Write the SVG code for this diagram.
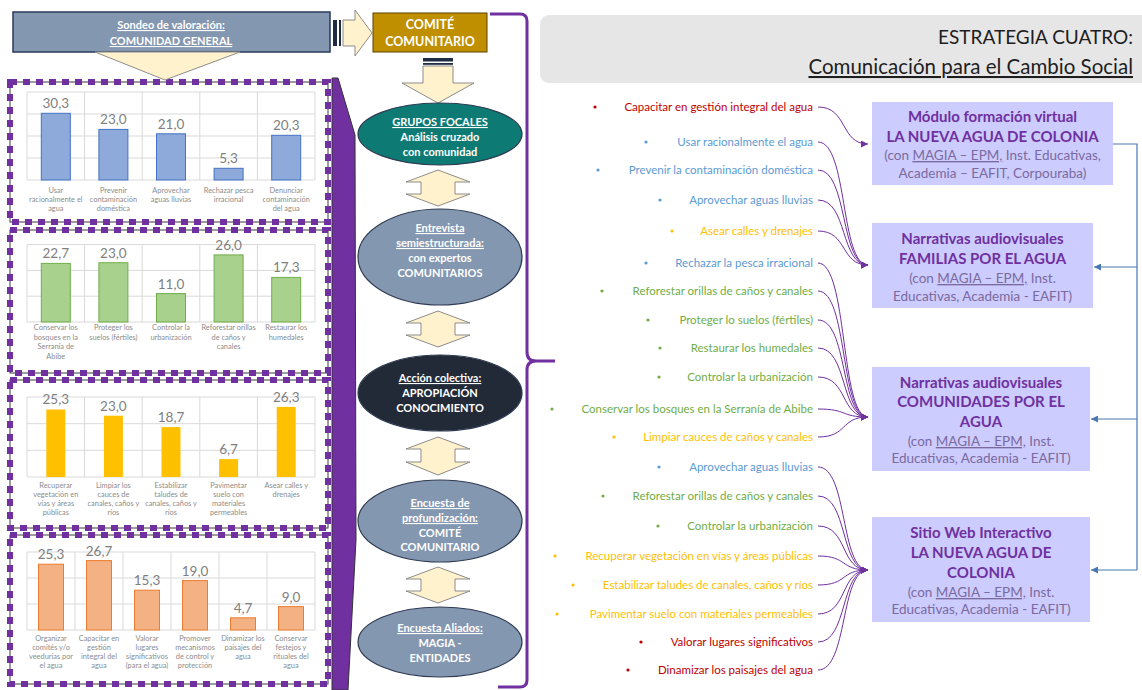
<svg xmlns="http://www.w3.org/2000/svg" width="1142" height="690" viewBox="0 0 1142 690">
<defs>
<style>
text{font-family:Lato,"Open Sans","Liberation Sans",sans-serif}
.w{fill:#fff;font-weight:bold;font-size:11px;text-anchor:middle}
.u{text-decoration:underline}
.val{font-size:13.5px;fill:#7f7f7f;text-anchor:middle}
.cat{font-size:7.4px;fill:#8c8c8c;text-anchor:middle}
.grid{stroke:#d9d9d9;stroke-width:1;fill:none}
.yel{fill:#fff2cc;stroke:#8c8c8c;stroke-width:1}
.ell{stroke:#2f3b52;stroke-width:1.2}
.it{font-size:11.5px;text-anchor:end}
.r{fill:#c00000}.b{fill:#5b9bd5}.g{fill:#70ad47}.y{fill:#ffc000}
.cv{fill:none;stroke:#7030a0;stroke-width:1;marker-end:url(#pa)}
.bl{fill:none;stroke:#4a78b0;stroke-width:1.2}
.ba{fill:none;stroke:#4a78b0;stroke-width:1.2;marker-end:url(#ba)}
.box{fill:#ccccff}
.bt{font-size:15px;font-weight:bold;fill:#7030a0;text-anchor:middle}
.bs{font-size:13.5px;fill:#7b6a9e;text-anchor:middle}
.dash{fill:none;stroke:#7030a0;stroke-width:6;stroke-dasharray:7 6}
.thin{fill:none;stroke:#3a3a3a;stroke-width:1}
.b1{fill:#8eaadb;stroke:#4472c4;stroke-width:1}
.b2{fill:#a9d18e;stroke:#70ad47;stroke-width:1}
.b3{fill:#ffc000}
.b4{fill:#f4b183;stroke:#ed7d31;stroke-width:1}
</style>
<marker id="pa" viewBox="0 0 10 10" refX="10" refY="5" markerWidth="7" markerHeight="7" markerUnits="userSpaceOnUse" orient="auto"><path d="M0,0 L10,5 L0,10 z" fill="#7030a0"/></marker>
<marker id="ba" viewBox="0 0 10 10" refX="10" refY="5" markerWidth="7" markerHeight="7" markerUnits="userSpaceOnUse" orient="auto"><path d="M0,0 L10,5 L0,10 z" fill="#4a78b0"/></marker>
</defs>
<rect width="1142" height="690" fill="#fff"/>

<!-- big purple chevron -->
<polygon points="332,78 338,78 355,135 356,540 348,690 332,690" fill="#7030a0" stroke="#333" stroke-width="1"/>

<!-- chart panels -->
<g id="chart1">
<rect x="10" y="82" width="318" height="140" fill="#fff"/>
<path class="grid" d="M27,92H315M27,114H315M27,136H315M27,158H315M27,180H315M27,92V180M84.6,92V180M142.2,92V180M199.8,92V180M257.4,92V180M315,92V180"/>
<rect class="b1" x="41.3" y="113.3" width="29" height="66.7"/>
<rect class="b1" x="98.9" y="129.4" width="29" height="50.6"/>
<rect class="b1" x="156.5" y="133.8" width="29" height="46.2"/>
<rect class="b1" x="214.1" y="168.3" width="29" height="11.7"/>
<rect class="b1" x="271.7" y="135.3" width="29" height="44.7"/>
<text class="val" x="55.8" y="108">30,3</text>
<text class="val" x="113.4" y="124">23,0</text>
<text class="val" x="171" y="128.5">21,0</text>
<text class="val" x="228.6" y="163">5,3</text>
<text class="val" x="286.2" y="130">20,3</text>
<text class="cat" x="55.8" y="193">Usar<tspan x="55.8" y="202">racionalmente el</tspan><tspan x="55.8" y="211">agua</tspan></text>
<text class="cat" x="113.4" y="193">Prevenir<tspan x="113.4" y="202">contaminación</tspan><tspan x="113.4" y="211">doméstica</tspan></text>
<text class="cat" x="171" y="193">Aprovechar<tspan x="171" y="202">aguas lluvias</tspan></text>
<text class="cat" x="228.6" y="193">Rechazar pesca<tspan x="228.6" y="202">irracional</tspan></text>
<text class="cat" x="286.2" y="193">Denunciar<tspan x="286.2" y="202">contaminación</tspan><tspan x="286.2" y="211">del agua</tspan></text>
<rect class="thin" x="10" y="82" width="318" height="140"/>
<rect class="dash" x="10" y="82" width="318" height="140"/>
</g>

<g id="chart2">
<rect x="10" y="230" width="318" height="143" fill="#fff"/>
<path class="grid" d="M27,244.6H315M27,270.4H315M27,296.2H315M27,322H315M27,244.6V322M84.6,244.6V322M142.2,244.6V322M199.8,244.6V322M257.4,244.6V322M315,244.6V322"/>
<rect class="b2" x="41.3" y="263.4" width="29" height="58.6"/>
<rect class="b2" x="98.9" y="262.7" width="29" height="59.3"/>
<rect class="b2" x="156.5" y="293.6" width="29" height="28.4"/>
<rect class="b2" x="214.1" y="254.9" width="29" height="67.1"/>
<rect class="b2" x="271.7" y="277.4" width="29" height="44.6"/>
<text class="val" x="55.8" y="258">22,7</text>
<text class="val" x="113.4" y="257.5">23,0</text>
<text class="val" x="171" y="288.5">11,0</text>
<text class="val" x="228.6" y="249.5">26,0</text>
<text class="val" x="286.2" y="272">17,3</text>
<text class="cat" x="55.8" y="330">Conservar los<tspan x="55.8" y="339.5">bosques en la</tspan><tspan x="55.8" y="349">Serranía de</tspan><tspan x="55.8" y="358.5">Abibe</tspan></text>
<text class="cat" x="113.4" y="330">Proteger los<tspan x="113.4" y="339.5">suelos (fértiles)</tspan></text>
<text class="cat" x="171" y="330">Controlar la<tspan x="171" y="339.5">urbanización</tspan></text>
<text class="cat" x="228.6" y="330">Reforestar orillas<tspan x="228.6" y="339.5">de caños y</tspan><tspan x="228.6" y="349">canales</tspan></text>
<text class="cat" x="286.2" y="330">Restaurar los<tspan x="286.2" y="339.5">humedales</tspan></text>
<rect class="thin" x="10" y="230" width="318" height="143"/>
<rect class="dash" x="10" y="230" width="318" height="143"/>
</g>

<g id="chart3">
<rect x="10" y="380" width="318" height="148" fill="#fff"/>
<path class="grid" d="M27,397H315M27,423.7H315M27,450.3H315M27,477H315M27,397V477M84.6,397V477M142.2,397V477M199.8,397V477M257.4,397V477M315,397V477"/>
<rect class="b3" x="46.3" y="409.5" width="19" height="67.5"/>
<rect class="b3" x="103.9" y="415.7" width="19" height="61.3"/>
<rect class="b3" x="161.5" y="427.1" width="19" height="49.9"/>
<rect class="b3" x="219.1" y="459.1" width="19" height="17.9"/>
<rect class="b3" x="276.7" y="406.9" width="19" height="70.1"/>
<text class="val" x="55.8" y="404">25,3</text>
<text class="val" x="113.4" y="410.5">23,0</text>
<text class="val" x="171" y="421.5">18,7</text>
<text class="val" x="228.6" y="454">6,7</text>
<text class="val" x="286.2" y="401.5">26,3</text>
<text class="cat" x="55.8" y="488">Recuperar<tspan x="55.8" y="497">vegetación en</tspan><tspan x="55.8" y="506">vías y áreas</tspan><tspan x="55.8" y="515">públicas</tspan></text>
<text class="cat" x="113.4" y="488">Limpiar los<tspan x="113.4" y="497">cauces de</tspan><tspan x="113.4" y="506">canales, caños y</tspan><tspan x="113.4" y="515">ríos</tspan></text>
<text class="cat" x="171" y="488">Estabilizar<tspan x="171" y="497">taludes de</tspan><tspan x="171" y="506">canales, caños y</tspan><tspan x="171" y="515">ríos</tspan></text>
<text class="cat" x="228.6" y="488">Pavimentar<tspan x="228.6" y="497">suelo con</tspan><tspan x="228.6" y="506">materiales</tspan><tspan x="228.6" y="515">permeables</tspan></text>
<text class="cat" x="286.2" y="488">Asear calles y<tspan x="286.2" y="497">drenajes</tspan></text>
<rect class="thin" x="10" y="380" width="318" height="148"/>
<rect class="dash" x="10" y="380" width="318" height="148"/>
</g>

<g id="chart4">
<rect x="10" y="535" width="318" height="149" fill="#fff"/>
<path class="grid" d="M27,552H315M27,578H315M27,604H315M27,630H315M27,552V630M75,552V630M123,552V630M171,552V630M219,552V630M267,552V630M315,552V630"/>
<rect class="b4" x="38.5" y="564.2" width="25" height="65.8"/>
<rect class="b4" x="86.5" y="560.6" width="25" height="69.4"/>
<rect class="b4" x="134.5" y="590.2" width="25" height="39.8"/>
<rect class="b4" x="182.5" y="580.6" width="25" height="49.4"/>
<rect class="b4" x="230.5" y="617.8" width="25" height="12.2"/>
<rect class="b4" x="278.5" y="606.6" width="25" height="23.4"/>
<text class="val" x="51" y="559">25,3</text>
<text class="val" x="99" y="555.5">26,7</text>
<text class="val" x="147" y="585">15,3</text>
<text class="val" x="195" y="575.5">19,0</text>
<text class="val" x="243" y="612.5">4,7</text>
<text class="val" x="291" y="601.5">9,0</text>
<text class="cat" x="51" y="641">Organizar<tspan x="51" y="650">comités y/o</tspan><tspan x="51" y="659">veedurías por</tspan><tspan x="51" y="668">el agua</tspan></text>
<text class="cat" x="99" y="641">Capacitar en<tspan x="99" y="650">gestión</tspan><tspan x="99" y="659">integral del</tspan><tspan x="99" y="668">agua</tspan></text>
<text class="cat" x="147" y="641">Valorar<tspan x="147" y="650">lugares</tspan><tspan x="147" y="659">significativos</tspan><tspan x="147" y="668">(para el agua)</tspan></text>
<text class="cat" x="195" y="641">Promover<tspan x="195" y="650">mecanismos</tspan><tspan x="195" y="659">de control y</tspan><tspan x="195" y="668">protección</tspan></text>
<text class="cat" x="243" y="641">Dinamizar los<tspan x="243" y="650">paisajes del</tspan><tspan x="243" y="659">agua</tspan></text>
<text class="cat" x="291" y="641">Conservar<tspan x="291" y="650">festejos y</tspan><tspan x="291" y="659">rituales del</tspan><tspan x="291" y="668">agua</tspan></text>
<rect class="thin" x="10" y="535" width="318" height="149"/>
<rect class="dash" x="10" y="535" width="318" height="149"/>
</g>

<!-- top left nodes -->
<g id="sondeo">
<rect x="13" y="12" width="317" height="40" fill="#8497b0" stroke="#2a3a58" stroke-width="1.5"/>
<text class="w u" x="171" y="29">Sondeo de valoración:</text>
<text class="w u" x="171" y="45">COMUNIDAD GENERAL</text>
</g>
<g id="comite">
<rect x="373" y="13" width="114" height="39" fill="#bf8f00" stroke="#5a4300" stroke-width="1"/>
<text class="w" x="430" y="29" style="font-size:12.5px">COMITÉ</text>
<text class="w" x="430" y="46" style="font-size:12.5px">COMUNITARIO</text>
</g>

<!-- block arrows -->
<g id="arrows-left">
<polygon class="yel" points="95,52 240,52 165,80"/>
<rect x="333" y="20" width="4" height="26" fill="#1f2d44"/>
<rect x="339" y="20" width="2" height="26" fill="#1f2d44"/>
<polygon class="yel" points="343,20 355,20 355,10 372,33 355,56 355,46 343,46"/>
<rect x="423" y="58" width="30" height="3.5" fill="#1f2d44"/>
<rect x="423" y="63" width="30" height="1.8" fill="#1f2d44"/>
<polygon class="yel" points="423,66 453,66 453,83 474,83 438,103 402,83 423,83"/>
<polygon class="yel" points="438,170 470,182 455,182 455,194 470,194 438,206 406,194 421,194 421,182 406,182"/>
<polygon class="yel" points="438,311 470,323 455,323 455,335 470,335 438,347 406,335 421,335 421,323 406,323"/>
<polygon class="yel" points="438,437 470,449 455,449 455,462 470,462 438,475 406,462 421,462 421,449 406,449"/>
<polygon class="yel" points="438,567 470,579 455,579 455,591 470,591 438,603 406,591 421,591 421,579 406,579"/>
</g>

<g id="grupos">
<ellipse class="ell" cx="440" cy="134" rx="82" ry="31" fill="#0e7a74"/>
<text class="w u" x="440" y="126">GRUPOS FOCALES</text>
<text class="w" x="440" y="141">Análisis cruzado</text>
<text class="w" x="440" y="156">con comunidad</text>
</g>
<g id="entrevista">
<ellipse class="ell" cx="440" cy="257" rx="82" ry="48" fill="#8497b0"/>
<text class="w u" x="440" y="232">Entrevista</text>
<text class="w u" x="440" y="247">semiestructurada:</text>
<text class="w" x="440" y="262">con expertos</text>
<text class="w" x="440" y="277">COMUNITARIOS</text>
</g>
<g id="accion">
<ellipse class="ell" cx="440" cy="393" rx="82" ry="38" fill="#222a38"/>
<text class="w u" x="440" y="382">Acción colectiva:</text>
<text class="w" x="440" y="397">APROPIACIÓN</text>
<text class="w" x="440" y="412">CONOCIMIENTO</text>
</g>
<g id="profundizacion">
<ellipse class="ell" cx="440" cy="521" rx="82" ry="41" fill="#8497b0"/>
<text class="w u" x="440" y="507">Encuesta de</text>
<text class="w u" x="440" y="522">profundización:</text>
<text class="w" x="440" y="537">COMITÉ</text>
<text class="w" x="440" y="551">COMUNITARIO</text>
</g>
<g id="aliados">
<ellipse class="ell" cx="440" cy="642" rx="82" ry="35" fill="#8497b0"/>
<text class="w u" x="440" y="632">Encuesta Aliados:</text>
<text class="w" x="440" y="647">MAGIA -</text>
<text class="w" x="440" y="662">ENTIDADES</text>
</g>

<!-- brace -->
<path d="M490,14 H520 Q527,14 527,21 V352 Q527,361 536,361 H555 M536,361 Q527,361 527,370 V680 Q527,687 520,687 H498" fill="none" stroke="#7030a0" stroke-width="3"/>

<!-- header -->
<g id="header">
<rect x="540" y="15" width="620" height="68" rx="9" fill="#e7e6e6"/>
<text x="1133" y="44" text-anchor="end" style="font-size:19px;fill:#1e1e1e">ESTRATEGIA CUATRO:</text>
<text x="1133" y="74" text-anchor="end" class="u" style="font-size:20.5px;fill:#1e1e1e">Comunicación para el Cambio Social</text>
</g>

<!-- items -->
<g id="items">
<circle cx="595" cy="107" r="1.6" class="r"/><text class="it r" x="813" y="111">Capacitar en gestión integral del agua</text>
<circle cx="646" cy="142" r="1.6" class="b"/><text class="it b" x="813" y="146">Usar racionalmente el agua</text>
<circle cx="598" cy="170" r="1.6" class="b"/><text class="it b" x="813" y="174">Prevenir la contaminación doméstica</text>
<circle cx="660" cy="200" r="1.6" class="b"/><text class="it b" x="813" y="204">Aprovechar aguas lluvias</text>
<circle cx="672" cy="231" r="1.6" class="y"/><text class="it y" x="813" y="235">Asear calles y drenajes</text>
<circle cx="646" cy="263" r="1.6" class="b"/><text class="it b" x="813" y="267">Rechazar la pesca irracional</text>
<circle cx="602" cy="291" r="1.6" class="g"/><text class="it g" x="813" y="295">Reforestar orillas de caños y canales</text>
<circle cx="648" cy="320" r="1.6" class="g"/><text class="it g" x="813" y="324">Proteger lo suelos (fértiles)</text>
<circle cx="660" cy="348" r="1.6" class="g"/><text class="it g" x="813" y="352">Restaurar los humedales</text>
<circle cx="659" cy="377" r="1.6" class="g"/><text class="it g" x="813" y="381">Controlar la urbanización</text>
<circle cx="552" cy="409" r="1.6" class="g"/><text class="it g" x="813" y="413">Conservar los bosques en la Serranía de Abibe</text>
<circle cx="614" cy="437" r="1.6" class="y"/><text class="it y" x="813" y="441">Limpiar cauces de caños y canales</text>
<circle cx="659" cy="467" r="1.6" class="b"/><text class="it b" x="813" y="471">Aprovechar aguas lluvias</text>
<circle cx="603" cy="496" r="1.6" class="g"/><text class="it g" x="813" y="500">Reforestar orillas de caños y canales</text>
<circle cx="658" cy="526" r="1.6" class="g"/><text class="it g" x="813" y="530">Controlar la urbanización</text>
<circle cx="555" cy="556" r="1.6" class="y"/><text class="it y" x="813" y="560">Recuperar vegetación en vías y áreas públicas</text>
<circle cx="573" cy="585" r="1.6" class="y"/><text class="it y" x="813" y="589">Estabilizar taludes de canales, caños y ríos</text>
<circle cx="557" cy="614" r="1.6" class="y"/><text class="it y" x="813" y="618">Pavimentar suelo con materiales permeables</text>
<circle cx="641" cy="642" r="1.6" class="r"/><text class="it r" x="813" y="646">Valorar lugares significativos</text>
<circle cx="628" cy="670" r="1.6" class="r"/><text class="it r" x="813" y="674">Dinamizar los paisajes del agua</text>
</g>

<!-- connectors -->
<g id="connectors">
<path class="cv" d="M818,107 C848,107 840,144 868,144"/>
<path class="cv" d="M818,142 C848,142 840,265 868,265"/>
<path class="cv" d="M818,170 C848,170 840,265 868,265"/>
<path class="cv" d="M818,200 C848,200 840,265 868,265"/>
<path class="cv" d="M818,231 C848,231 840,265 868,265"/>
<path class="cv" d="M818,263 C848,263 840,417 868,417"/>
<path class="cv" d="M818,291 C848,291 840,417 868,417"/>
<path class="cv" d="M818,320 C848,320 840,417 868,417"/>
<path class="cv" d="M818,348 C848,348 840,417 868,417"/>
<path class="cv" d="M818,377 C848,377 840,417 868,417"/>
<path class="cv" d="M818,409 C848,409 840,417 868,417"/>
<path class="cv" d="M818,437 C848,437 840,417 868,417"/>
<path class="cv" d="M818,467 C848,467 840,570 868,570"/>
<path class="cv" d="M818,496 C848,496 840,570 868,570"/>
<path class="cv" d="M818,526 C848,526 840,570 868,570"/>
<path class="cv" d="M818,556 C848,556 840,570 868,570"/>
<path class="cv" d="M818,585 C848,585 840,570 868,570"/>
<path class="cv" d="M818,614 C848,614 840,570 868,570"/>
<path class="cv" d="M818,642 C848,642 840,570 868,570"/>
<path class="cv" d="M818,670 C848,670 840,570 868,570"/>
<path class="bl" d="M1113,144 H1137 V570"/>
<path class="ba" d="M1137,267 H1094"/>
<path class="ba" d="M1137,419 H1091"/>
<path class="ba" d="M1137,570 H1091"/>
</g>

<!-- right boxes -->
<g id="modulo">
<rect class="box" x="872" y="102" width="241" height="83"/>
<text class="bt" x="992.5" y="122">Módulo formación virtual</text>
<text class="bt" x="992.5" y="142">LA NUEVA AGUA DE COLONIA</text>
<text class="bs" x="992.5" y="160">(con <tspan class="u">MAGIA – EPM,</tspan> Inst. Educativas,</text>
<text class="bs" x="992.5" y="178">Academia – EAFIT, Corpouraba)</text>
</g>
<g id="familias">
<rect class="box" x="872" y="223" width="221" height="85"/>
<text class="bt" x="982.5" y="244">Narrativas audiovisuales</text>
<text class="bt" x="982.5" y="264">FAMILIAS POR EL AGUA</text>
<text class="bs" x="982.5" y="283">(con <tspan class="u">MAGIA – EPM,</tspan> Inst.</text>
<text class="bs" x="982.5" y="301">Educativas, Academia - EAFIT)</text>
</g>
<g id="comunidades">
<rect class="box" x="872" y="367" width="218" height="104"/>
<text class="bt" x="981" y="388">Narrativas audiovisuales</text>
<text class="bt" x="981" y="407">COMUNIDADES POR EL</text>
<text class="bt" x="981" y="427">AGUA</text>
<text class="bs" x="981" y="446">(con <tspan class="u">MAGIA – EPM,</tspan> Inst.</text>
<text class="bs" x="981" y="463">Educativas, Academia - EAFIT)</text>
</g>
<g id="sitioweb">
<rect class="box" x="872" y="517" width="218" height="105"/>
<text class="bt" x="981" y="538">Sitio Web Interactivo</text>
<text class="bt" x="981" y="558">LA NUEVA AGUA DE</text>
<text class="bt" x="981" y="578">COLONIA</text>
<text class="bs" x="981" y="597">(con <tspan class="u">MAGIA – EPM,</tspan> Inst.</text>
<text class="bs" x="981" y="614">Educativas, Academia - EAFIT)</text>
</g>
</svg>
